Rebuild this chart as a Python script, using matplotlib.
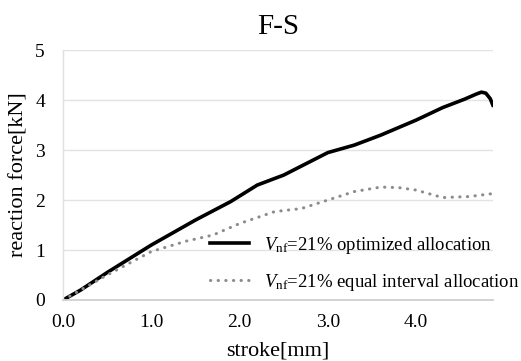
import matplotlib
matplotlib.use("Agg")
import matplotlib.pyplot as plt

# Fonts: Times-like serif everywhere, mathtext too
plt.rcParams['font.family'] = ['Liberation Serif', 'DejaVu Serif']
plt.rcParams['mathtext.fontset'] = 'custom'
plt.rcParams['mathtext.rm'] = 'Liberation Serif'
plt.rcParams['mathtext.it'] = 'Liberation Serif:italic'

# Data
stroke_opt = [0.0, 0.2, 0.5, 1.0, 1.5, 1.9, 2.0, 2.2, 2.5, 3.0, 3.3, 3.6, 4.0, 4.3, 4.55, 4.68, 4.74, 4.79, 4.84, 4.87]
force_opt = [0.0, 0.2, 0.55, 1.1, 1.6, 1.97, 2.08, 2.3, 2.5, 2.95, 3.1, 3.3, 3.6, 3.85, 4.02, 4.12, 4.16, 4.14, 4.03, 3.9]

stroke_eq = [0.0, 0.5, 1.0, 1.4, 1.7, 2.0, 2.4, 2.7, 3.0, 3.3, 3.6, 3.8, 4.0, 4.3, 4.6, 4.87]
force_eq = [0.0, 0.5, 0.97, 1.18, 1.3, 1.53, 1.77, 1.83, 2.0, 2.17, 2.26, 2.25, 2.2, 2.05, 2.07, 2.13]

x_ticks = [0.0, 1.0, 2.0, 3.0, 4.0]
y_ticks = [0, 1, 2, 3, 4, 5]

label_opt = r"$V_{\mathrm{nf}}$=21% optimized allocation"
label_eq = r"$V_{\mathrm{nf}}$=21% equal interval allocation"

fig = plt.figure(figsize=(5.21, 3.61), dpi=100)
ax = fig.add_axes([0.121, 0.169, 0.825, 0.692])

ax.plot(stroke_opt, force_opt, color='black', linewidth=2.6, label=label_opt,
        solid_joinstyle='round')
ax.plot(stroke_eq, force_eq, color='#8c8c8c', linewidth=2.2, linestyle=(0, (0.1, 2.4)),
        dash_capstyle='round', label=label_eq)

ax.set_xlim(0, 4.87)
ax.set_ylim(0, 5)
ax.set_xticks(x_ticks)
ax.set_xticklabels(["%.1f" % v for v in x_ticks])
ax.set_yticks(y_ticks)

# Excel-like look
for side in ['top', 'right']:
    ax.spines[side].set_visible(False)
ax.spines['left'].set_color('#e0e0e0')
ax.spines['left'].set_linewidth(1.0)
ax.spines['bottom'].set_color('#d0d0d0')
ax.spines['bottom'].set_linewidth(1.3)
ax.yaxis.grid(True, color='#e3e3e3', linewidth=1.0)
ax.set_axisbelow(True)
ax.tick_params(length=0, labelsize=14)
ax.tick_params(axis='x', pad=10)
ax.tick_params(axis='y', pad=13)

ax.set_title("F-S", fontsize=21, pad=12)
ax.set_xlabel("stroke[mm]", fontsize=16, labelpad=8)
ax.set_ylabel("reaction force[kN]", fontsize=16, labelpad=5)

ax.legend(loc='center left', bbox_to_anchor=(210 / 521, 1 - 264 / 361),
          bbox_transform=fig.transFigure, frameon=False, fontsize=13.5,
          borderpad=0, borderaxespad=0,
          handlelength=2.1, handletextpad=0.8, labelspacing=0.85)

fig.savefig("out.png", dpi=100)
